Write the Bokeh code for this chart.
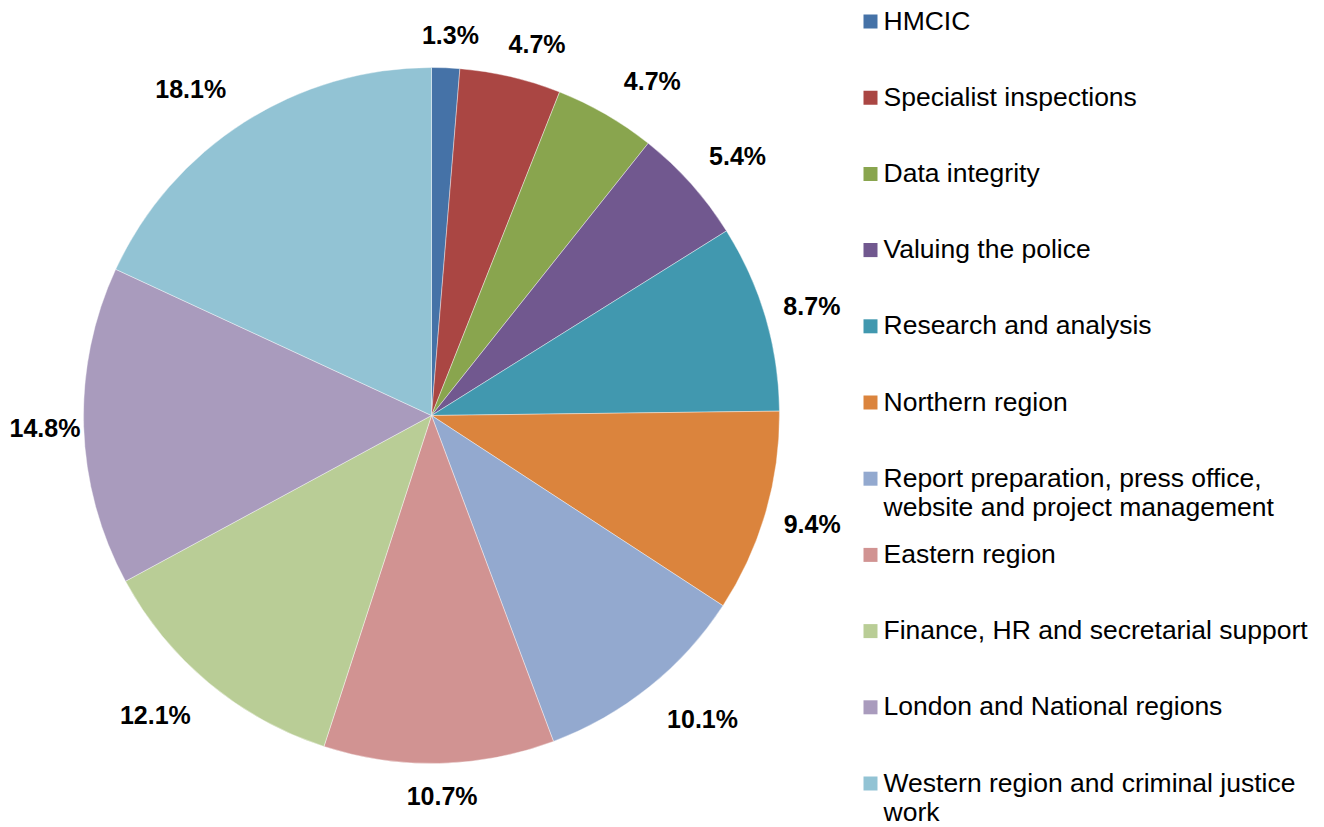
import numpy as np
from bokeh.plotting import figure
from bokeh.models import Range1d, ColumnDataSource
from bokeh.core.properties import value
from bokeh.embed import file_html
from bokeh.resources import INLINE

# ---- data ----
categories = [
    "HMCIC",
    "Specialist inspections",
    "Data integrity",
    "Valuing the police",
    "Research and analysis",
    "Northern region",
    "Report preparation, press office,\nwebsite and project management",
    "Eastern region",
    "Finance, HR and secretarial support",
    "London and National regions",
    "Western region and criminal justice\nwork",
]
shares = [1.3, 4.7, 4.7, 5.4, 8.7, 9.4, 10.1, 10.7, 12.1, 14.8, 18.1]
colors = ["#4572A7", "#AA4643", "#89A54E", "#71588F", "#4198AF", "#DB843D",
          "#93A9CF", "#D19392", "#B9CD96", "#A99BBD", "#92C3D4"]

# ---- layout (screen pixel coordinates, y measured downward) ----
W, H = 1324, 827
CX, CY, R = 431, 415, 348
FONT = "Liberation Sans"
LABEL_PX = 25
LEGEND_PX = 26.5


def sy(v):
    return H - v


p = figure(width=W, height=H, x_range=Range1d(0, W), y_range=Range1d(0, H),
           output_backend="svg", toolbar_location=None, min_border=0,
           x_axis_type=None, y_axis_type=None)
p.grid.visible = False
p.outline_line_color = None
p.background_fill_color = "white"
p.border_fill_color = "white"

vals = np.array(shares, dtype=float)
frac = vals / vals.sum()
cum = np.concatenate([[0.0], np.cumsum(frac)])
start = np.pi / 2 - 2 * np.pi * cum[:-1]
end = np.pi / 2 - 2 * np.pi * cum[1:]

pie_src = ColumnDataSource(dict(start=start, end=end, color=colors))
p.wedge(x=CX, y=sy(CY), radius=R, start_angle="start", end_angle="end",
        direction="clock", fill_color="color", line_color="white",
        line_width=0.4, source=pie_src)

# ---- data labels (placed just outside the rim, kept inside the chart) ----
mid = (start + end) / 2
lx, ly, lt = [], [], []
for m, v in zip(mid, shares):
    txt = f"{v:.1f}%"
    ndig = sum(c.isdigit() for c in txt)
    w = LABEL_PX * (0.556 * ndig + 0.278 + 0.889)
    ux, uy = np.cos(m), np.sin(m)
    ox = (w / 2 + 18) * np.clip(2.5 * ux, -1, 1)
    oy = 33 * np.clip(1.25 * uy, -1, 1)
    x = max(CX + R * ux + ox, w / 2 + 9)
    lx.append(x)
    ly.append(sy(CY) + R * uy + oy)
    lt.append(txt)
p.text(x=lx, y=ly, text=lt, text_align="center", text_baseline="middle",
       text_font=value(FONT), text_font_size=f"{LABEL_PX}px",
       text_font_style="bold", text_color="black")

# ---- legend ----
mx, my, tx, ty, tt = [], [], [], [], []
for i, name in enumerate(categories):
    y0 = 20 + i * 76.2
    mx.append(870)
    my.append(sy(y0 + 1))
    for j, line in enumerate(name.split("\n")):
        tx.append(883)
        ty.append(sy(y0 + j * 29.5))
        tt.append(line)
p.rect(x=mx, y=my, width=14, height=14, fill_color=colors, line_color=None)
p.text(x=tx, y=ty, text=tt, text_align="left", text_baseline="middle",
       text_font=value(FONT), text_font_size=f"{LEGEND_PX}px", text_color="black")

open("out.html", "w").write(file_html(p, INLINE))
